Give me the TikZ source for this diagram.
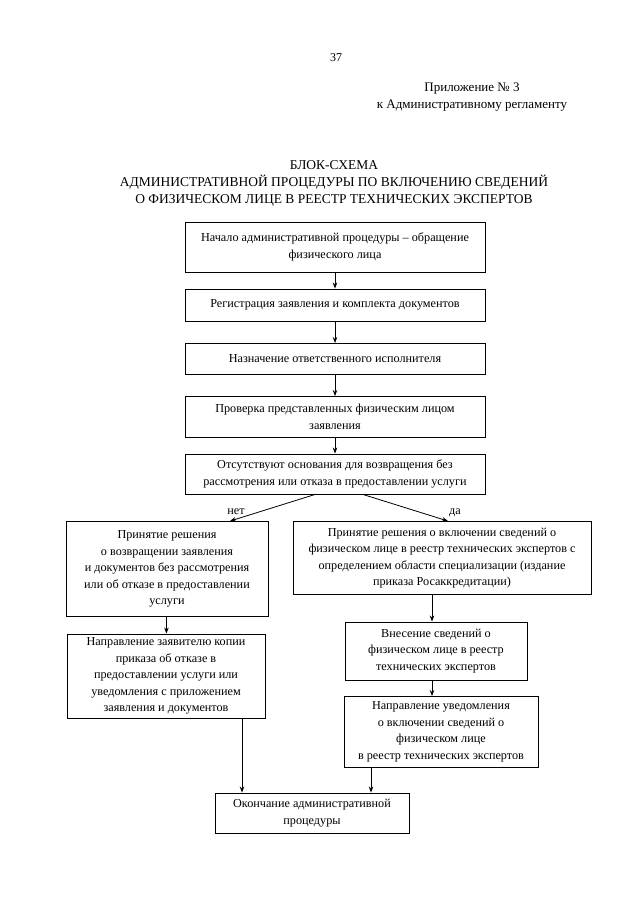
\documentclass[tikz,border=0pt]{standalone}
\usepackage{fontspec}
\setmainfont{Liberation Serif}
\usetikzlibrary{arrows.meta}
\begin{document}
\begin{tikzpicture}[x=1pt,y=-1pt,
  box/.style={draw=black, line width=0.9pt, align=center, inner sep=1pt,
    font=\fontsize{12.2}{16.5}\selectfont},
  arr/.style={line width=0.8pt, -{Stealth[length=6pt,width=4.5pt]}},
  lbl/.style={font=\fontsize{12.2}{13}\selectfont, inner sep=0pt},
  hdr/.style={font=\fontsize{13}{16.5}\selectfont, align=center, inner sep=0pt},
  ttl/.style={font=\fontsize{13.5}{17}\selectfont, align=center, inner sep=0pt}]
\useasboundingbox[fill=white] (0,0) rectangle (640,905);

\node[font=\fontsize{12}{14}\selectfont, inner sep=0pt] (pnum) at (336,58) {37};
\node[hdr] (app) at (472,97) {Приложение № 3\\к Административному регламенту};
\node[ttl] (title) at (334,183) {БЛОК-СХЕМА\\АДМИНИСТРАТИВНОЙ ПРОЦЕДУРЫ ПО ВКЛЮЧЕНИЮ СВЕДЕНИЙ\\О ФИЗИЧЕСКОМ ЛИЦЕ В РЕЕСТР ТЕХНИЧЕСКИХ ЭКСПЕРТОВ};

\node[box, minimum width=300pt, minimum height=50pt] (b1) at (335,247)
  {Начало административной процедуры – обращение\\физического лица};
\node[box, minimum width=300pt, minimum height=32pt] (b2) at (335,305)
  {Регистрация заявления и комплекта документов};
\node[box, minimum width=300pt, minimum height=31pt] (b3) at (335,359)
  {Назначение ответственного исполнителя};
\node[box, minimum width=300pt, minimum height=41pt] (b4) at (335,417)
  {Проверка представленных физическим лицом\\заявления};
\node[box, minimum width=300pt, minimum height=40pt] (b5) at (335,474)
  {Отсутствуют основания для возвращения без\\рассмотрения или отказа в предоставлении услуги};

\node[box, minimum width=202pt, minimum height=95pt] (l1) at (167,569)
  {Принятие решения\\о возвращении заявления\\и документов без рассмотрения\\или об отказе в предоставлении\\услуги};
\node[box, minimum width=298pt, minimum height=73pt] (r1) at (442,558)
  {Принятие решения о включении сведений о\\физическом лице в реестр технических экспертов с\\определением области специализации (издание\\приказа Росаккредитации)};
\node[box, minimum width=182pt, minimum height=58pt] (r2) at (436,651)
  {Внесение сведений о\\физическом лице в реестр\\технических экспертов};
\node[box, minimum width=194pt, minimum height=71pt] (r3) at (441,732)
  {Направление уведомления\\о включении сведений о\\физическом лице\\в реестр технических экспертов};
\node[box, minimum width=198pt, minimum height=84pt] (l2) at (166,676)
  {Направление заявителю копии\\приказа об отказе в\\предоставлении услуги или\\уведомления с приложением\\заявления и документов};
\node[box, minimum width=194pt, minimum height=40pt] (e1) at (312,813)
  {Окончание административной\\процедуры};

\draw[arr] (b1) -- (b2);
\draw[arr] (b2) -- (b3);
\draw[arr] (b3) -- (b4);
\draw[arr] (b4) -- (b5);

\coordinate (nstart) at ([xshift=-20pt]b5.south);
\coordinate (nend) at ([xshift=63pt]l1.north);
\coordinate (dstart) at ([xshift=28pt]b5.south);
\coordinate (dend) at ([xshift=6pt]r1.north);
\draw[arr] (nstart) -- (nend);
\draw[arr] (dstart) -- (dend);
\node[lbl] (net) at (236,512) {нет};
\node[lbl] (da) at (455,513) {да};

\draw[arr] (l1) -- (l2);
\coordinate (r2top) at ([xshift=-4pt]r2.north);
\draw[arr] (r2top |- r1.south) -- (r2top);
\coordinate (r3top) at ([xshift=-9pt]r3.north);
\draw[arr] (r3top |- r2.south) -- (r3top);

\coordinate (eL) at ([xshift=-70pt]e1.north);
\coordinate (eR) at ([xshift=59pt]e1.north);
\draw[arr] (eL |- l2.south) -- (eL);
\draw[arr] (eR |- r3.south) -- (eR);
\end{tikzpicture}
\end{document}
